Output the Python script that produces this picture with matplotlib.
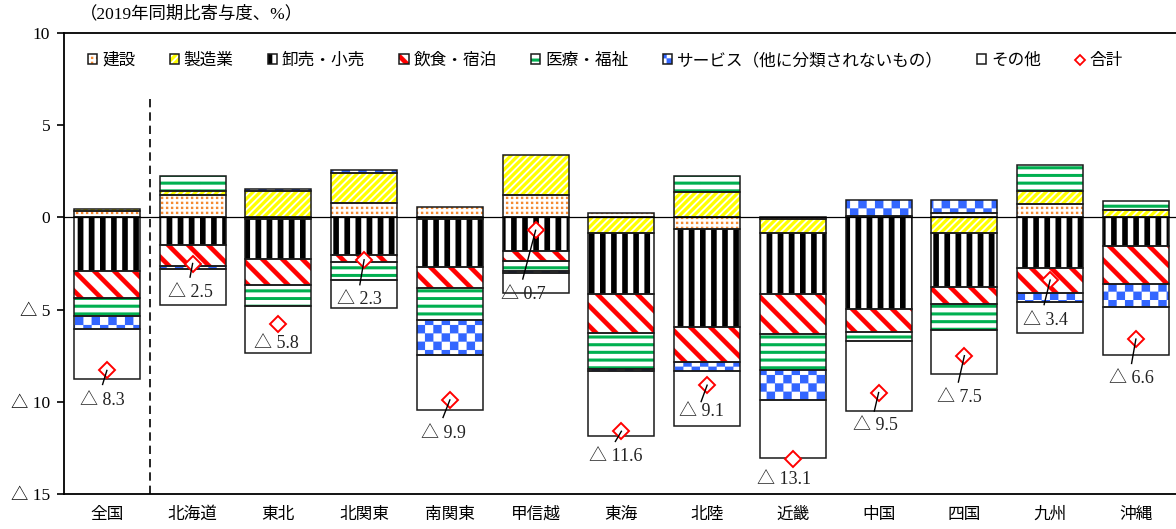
import warnings
import numpy as np
import matplotlib
matplotlib.use("Agg")
import matplotlib.pyplot as plt
from matplotlib import hatch as mhatch
from matplotlib.path import Path
from matplotlib.lines import Line2D
from matplotlib.legend_handler import HandlerTuple

warnings.filterwarnings("ignore")

# ---------------------------------------------------------------- data
regions = ["全国", "北海道", "東北", "北関東", "南関東", "甲信越", "東海",
           "北陸", "近畿", "中国", "四国", "九州", "沖縄"]

construction = [0.34, 1.22, -0.10, 0.79, 0.58, 1.21, 0.22, -0.65, -0.10, 0.10, 0.25, 0.72, 0.0]
manufacturing = [0.12, 0.20, 1.45, 1.64, -0.10, 2.20, -0.83, 1.40, -0.75, 0.0, -0.85, 0.72, 0.38]
wholesale_retail = [-2.88, -1.48, -2.14, -2.04, -2.58, -1.80, -3.31, -5.29, -3.28, -4.99, -2.92, -2.74, -1.57]
food_lodging = [-1.48, -1.17, -1.44, -0.36, -1.15, -0.59, -2.12, -1.91, -2.22, -1.21, -0.92, -1.35, -2.02]
medical_welfare = [-0.99, 0.83, -1.10, -0.99, -1.76, -0.54, -1.95, 0.85, -1.95, -0.50, -1.39, 1.42, 0.50]
services_other = [-0.72, -0.15, 0.10, 0.16, -1.89, -0.10, -0.13, -0.49, -1.60, 0.83, 0.67, -0.50, -1.26]
others = [-2.72, -1.93, -2.60, -1.52, -2.98, -1.08, -3.51, -2.97, -3.17, -3.78, -2.39, -1.66, -2.63]

totals = [-8.3, -2.5, -5.8, -2.3, -9.9, -0.7, -11.6, -9.1, -13.1, -9.5, -7.5, -3.4, -6.6]

series_labels = ["建設", "製造業", "卸売・小売", "飲食・宿泊", "医療・福祉",
                 "サービス（他に分類されないもの）", "その他"]
total_label = "合計"

ytick_values = [-15, -10, -5, 0, 5, 10]
ytick_labels = ["△ 15", "△ 10", "△ 5", "0", "5", "10"]
unit_note = "（2019年同期比寄与度、%）"

# label placement relative to each total marker (category units, data units)
label_offsets = [(-0.05, -1.62), (-0.02, -1.56), (-0.02, -1.05), (-0.05, -2.13),
                 (-0.08, -1.80), (-0.14, -3.50), (-0.06, -1.37), (-0.07, -1.44),
                 (-0.10, -1.10), (-0.04, -1.77), (-0.06, -2.27), (-0.06, -2.20),
                 (-0.05, -2.16)]
leader_offsets = [(-0.05, -0.76), (-0.03, -0.74), None, (-0.05, -1.35),
                  (-0.08, -0.95), (-0.15, -2.64), (-0.07, -0.55), (-0.07, -0.89),
                  None, (-0.05, -1.00), (-0.07, -1.43), (-0.07, -1.33),
                  (-0.05, -1.32)]


# ---------------------------------------------------------------- textures
class _TileHatch(mhatch.HatchPatternBase):
    """Filled quadrilaterals laid out in the unit hatch tile."""
    code = None

    def __init__(self, hatch, density):
        self.quads = self.tile() if (self.code and self.code in hatch) else []
        self.num_vertices = 5 * len(self.quads)

    def tile(self):
        return []

    def set_vertices_and_codes(self, vertices, codes):
        for k, q in enumerate(self.quads):
            s = 5 * k
            vertices[s:s + 4] = q
            vertices[s + 4] = q[0]
            codes[s] = Path.MOVETO
            codes[s + 1:s + 4] = Path.LINETO
            codes[s + 4] = Path.CLOSEPOLY


class VerticalBands(_TileHatch):
    code = "V"

    def tile(self):
        n, f = 9, 0.5
        return [[(i / n, 0), (i / n + f / n, 0), (i / n + f / n, 1), (i / n, 1)]
                for i in range(n)]


class HorizontalBands(_TileHatch):
    code = "H"

    def tile(self):
        n, f = 13, 0.38
        return [[(0, j / n), (1, j / n), (1, j / n + f / n), (0, j / n + f / n)]
                for j in range(n)]


class FallingBands(_TileHatch):
    code = "D"

    def tile(self):
        n, f = 5, 0.32
        w = f / n
        return [[(a, 1), (a + w, 1), (a + w + 1, 0), (a + 1, 0)]
                for a in (-1 + i / n for i in range(2 * n + 1))]


class RisingBands(_TileHatch):
    code = "U"

    def tile(self):
        n, f = 14, 0.62
        w = f / n
        return [[(a, 0), (a + w, 0), (a + w + 1, 1), (a + 1, 1)]
                for a in (-1 + i / n for i in range(2 * n + 1))]


class Dots(_TileHatch):
    code = "P"

    def tile(self):
        n, s = 20, 0.022
        out = []
        for i in range(n):
            for j in range(n):
                x0 = i / n + 0.01
                y0 = j / n + 0.01
                out.append([(x0, y0), (x0 + s, y0), (x0 + s, y0 + s), (x0, y0 + s)])
        return out


class Checker(_TileHatch):
    code = "K"

    def tile(self):
        n = 12
        c = 1 / n
        out = []
        for i in range(n):
            for j in range(n):
                if (i + j) % 2 == 0:
                    out.append([(i * c, j * c), ((i + 1) * c, j * c),
                                ((i + 1) * c, (j + 1) * c), (i * c, (j + 1) * c)])
        return out


mhatch._hatch_types.extend([VerticalBands, HorizontalBands, FallingBands,
                            RisingBands, Dots, Checker])

# ---------------------------------------------------------------- style
plt.rcParams["font.family"] = ["Liberation Serif", "Noto Sans CJK JP", "DejaVu Sans"]
plt.rcParams["hatch.linewidth"] = 0.1
plt.rcParams["axes.unicode_minus"] = False

series = [construction, manufacturing, wholesale_retail, food_lodging,
          medical_welfare, services_other, others]
styles = [
    ("white", "#F58A32", "P"),
    ("white", "#FFFF00", "U"),
    ("white", "black", "V"),
    ("white", "#FF0000", "D"),
    ("white", "#00B050", "H"),
    ("white", "#3366FF", "K"),
    ("white", "white", None),
]

fig = plt.figure(figsize=(11.76, 5.29), dpi=100)
ax = fig.add_axes([64 / 1176, 1 - 494 / 529, 13 * 85.75 / 1176, (494 - 33) / 529])

x = np.arange(len(regions))
bar_w = 0.77
pos_base = np.zeros(len(regions))
neg_base = np.zeros(len(regions))
legend_handles = []
for vals, (face, hcol, hatch) in zip(series, styles):
    v = np.asarray(vals, dtype=float)
    bottom = np.where(v >= 0, pos_base, neg_base)
    h = np.where(v == 0, np.nan, v)
    filled = ax.bar(x, h, bar_w, bottom=bottom, color=face, edgecolor=hcol,
                    linewidth=0, hatch=hatch, zorder=2)
    outline = ax.bar(x, h, bar_w, bottom=bottom, fill=False,
                     edgecolor="#1a1a1a", linewidth=1.1, zorder=3)
    legend_handles.append((filled, outline))
    pos_base += np.where(v > 0, v, 0)
    neg_base += np.where(v < 0, v, 0)

ax.axhline(0, color="black", linewidth=0.9, zorder=4)
ax.axvline(0.5, ymin=0, ymax=(6.45 + 15) / 25, color="black", linewidth=1.2,
           linestyle=(0, (5, 3)), zorder=1)

ax.plot(x, totals, linestyle="none", marker="D", markersize=8,
        markerfacecolor="white", markeredgecolor="red", markeredgewidth=1.4,
        zorder=5)

for i, tot in enumerate(totals):
    dx, dy = label_offsets[i]
    ax.text(x[i] + dx, tot + dy, f"△ {abs(tot):.1f}", ha="center", va="center",
            fontsize=13, color="#222222", zorder=7)
    if leader_offsets[i] is not None:
        lx, ly = leader_offsets[i]
        ax.plot([x[i], x[i] + lx], [tot, tot + ly], color="black",
                linewidth=1.0, zorder=6)

ax.set_xlim(-0.5, 12.5)
ax.set_ylim(-15, 10)
ax.set_xticks(x)
ax.set_xticklabels(regions, fontsize=12)
ax.set_yticks(ytick_values)
ax.set_yticklabels(ytick_labels, fontsize=12.5)
ax.tick_params(axis="x", length=0, pad=9)
ax.tick_params(axis="y", direction="out", length=5, width=1.2, pad=5)
for sp in ax.spines.values():
    sp.set_linewidth(1.3)
    sp.set_color("black")

total_handle = Line2D([], [], linestyle="none", marker="D", markersize=5,
                      markerfacecolor="white", markeredgecolor="red",
                      markeredgewidth=1.3)
ax.legend(legend_handles + [total_handle], series_labels + [total_label],
          handler_map={tuple: HandlerTuple(ndivide=1, pad=0)},
          ncol=8, loc="center left", bbox_to_anchor=(88 / 1176, 1 - 61 / 529),
          bbox_transform=fig.transFigure, frameon=False, fontsize=12,
          handlelength=0.55, handleheight=0.55, handletextpad=0.3,
          columnspacing=2.05, borderpad=0, borderaxespad=0)

fig.text(80 / 1176, 1 - 14 / 529, unit_note, fontsize=12.5, ha="left", va="center")

fig.savefig("out.png", dpi=100)
